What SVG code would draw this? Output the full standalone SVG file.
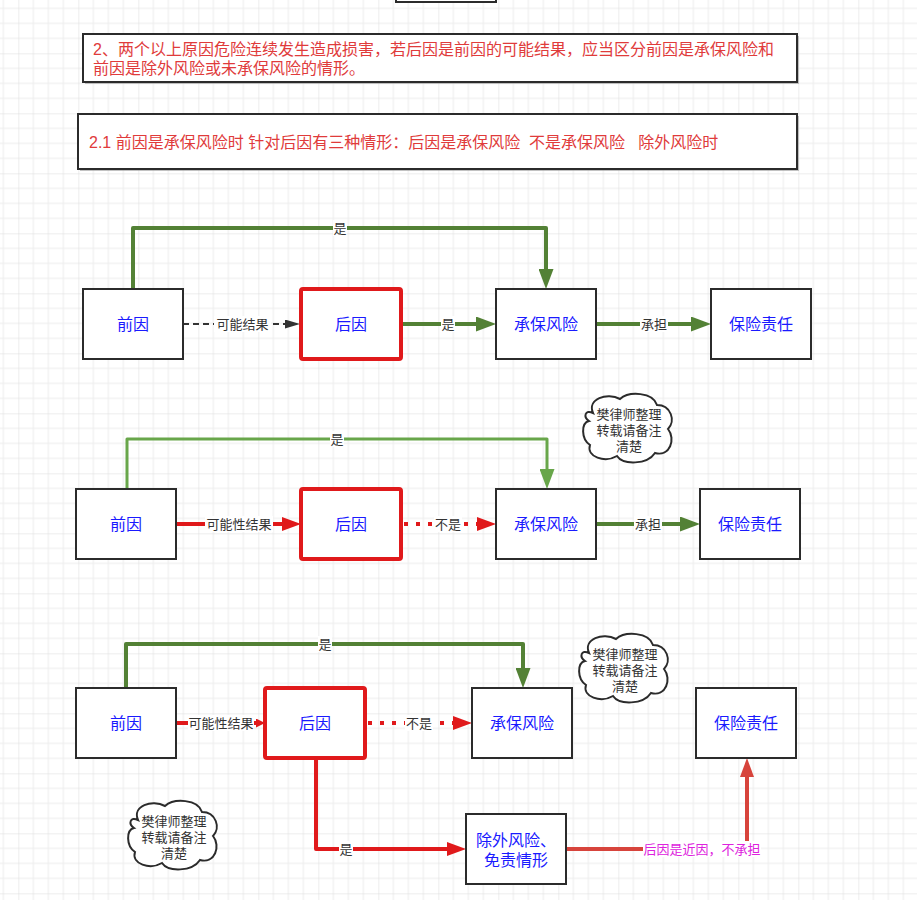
<svg xmlns="http://www.w3.org/2000/svg" width="917" height="900" viewBox="0 0 917 900">
<defs>
<pattern id="grid" width="60" height="60" patternUnits="userSpaceOnUse" x="18.33" y="53.33">
<path d="M15 0V60M30 0V60M45 0V60M0 15H60M0 30H60M0 45H60" stroke="#ececec" stroke-width="1" fill="none"/>
<path d="M0 0V60M0 0H60" stroke="#dcdcdc" stroke-width="1" fill="none"/>
</pattern>
<marker id="aDark" viewBox="0 0 15 9" refX="0" refY="4.5" markerWidth="15" markerHeight="9" markerUnits="userSpaceOnUse" orient="auto"><path d="M0 0L15 4.5L0 9Z" fill="#333"/></marker>
<marker id="aGreen" viewBox="0 0 20 15" refX="0" refY="7.5" markerWidth="20" markerHeight="15" markerUnits="userSpaceOnUse" orient="auto"><path d="M0 0L20 7.5L0 15Z" fill="#538135"/></marker>
<marker id="aLGreen" viewBox="0 0 20 15" refX="0" refY="7.5" markerWidth="20" markerHeight="15" markerUnits="userSpaceOnUse" orient="auto"><path d="M0 0L20 7.5L0 15Z" fill="#68a64a"/></marker>
<marker id="aRed" viewBox="0 0 19 14" refX="0" refY="7" markerWidth="19" markerHeight="14" markerUnits="userSpaceOnUse" orient="auto"><path d="M0 0L19 7L0 14Z" fill="#e0191b"/></marker>
<marker id="aRedS" viewBox="0 0 9 9" refX="0" refY="4.5" markerWidth="9" markerHeight="9" markerUnits="userSpaceOnUse" orient="auto"><path d="M0 0L9 4.5L0 9Z" fill="#e0191b"/></marker>
<marker id="aRed2" viewBox="0 0 19 14" refX="0" refY="7" markerWidth="19" markerHeight="14" markerUnits="userSpaceOnUse" orient="auto"><path d="M0 0L19 7L0 14Z" fill="#d7443c"/></marker>
<path id="cloud" d="M10 20C4 6 24 -1 37 6C46 -2 70 -1 74 12C88 12 93 28 85 36C93 46 87 64 72 60C64 72 40 72 34 63C22 70 3 64 7 52C-2 46 -2 30 6 28C0 24 2 16 10 20Z"/>
</defs>
<style>
text{font-family:"Liberation Sans","Noto Sans CJK SC",sans-serif}
.box{fill:#fff;stroke:#2b2b2b;stroke-width:2}
.hot{fill:#fff;stroke:#e0191b;stroke-width:4}
.shadow{fill:#9a9a9a;opacity:.6}
.note{font-size:16px;fill:#e03b3b;white-space:pre}
.nl{font-size:16px;fill:#1a1aff;text-anchor:middle}
.el{font-size:13px;fill:#333;text-anchor:middle}
.bg{fill:#fff}
.cl{fill:#fff;stroke:#2b2b2b;stroke-width:2}
.ct{font-size:13px;fill:#333;text-anchor:middle}
.e{fill:none;stroke-linejoin:round}
.dk{stroke:#333;stroke-width:2;stroke-dasharray:6 4}
.gr{stroke:#538135;stroke-width:4}
.lg{stroke:#68a64a;stroke-width:3}
.rd{stroke:#e0191b;stroke-width:4}
.dot{stroke:#e0191b;stroke-width:4;stroke-dasharray:4 8}
.rd2{stroke:#d7443c;stroke-width:4}
</style>
<rect width="917" height="900" fill="#fff"/>
<rect width="917" height="900" fill="url(#grid)"/>

<g id="topbox"><rect class="box" x="396" y="-20" width="100" height="22"/></g>

<g id="note1">
<rect class="shadow" x="85" y="36" width="714" height="48"/>
<rect class="box" x="83" y="34" width="714" height="48"/>
<text class="note" x="93" y="55">2、两个以上原因危险连续发生造成损害，若后因是前因的可能结果，应当区分前因是承保风险和</text>
<text class="note" x="93" y="74">前因是除外风险或未承保风险的情形。</text>
</g>
<g id="note2">
<rect class="shadow" x="80" y="116" width="719" height="55"/>
<rect class="box" x="78" y="114" width="719" height="55"/>
<text class="note" x="89" y="148">2.1 前因是承保风险时 针对后因有三种情形：后因是承保风险  不是承保风险   除外风险时</text>
</g>

<g id="connectors">
<path class="e dk" d="M183 324H285" marker-end="url(#aDark)"/>
<path class="e gr" d="M403 324H476" marker-end="url(#aGreen)"/>
<path class="e gr" d="M596 324H691" marker-end="url(#aGreen)"/>
<path class="e gr" d="M133 289V228H546V269" marker-end="url(#aGreen)"/>
<path class="e rd" d="M176 524H282" marker-end="url(#aRed)"/>
<path class="e dot" d="M404 524H477" marker-end="url(#aRed)"/>
<path class="e gr" d="M596 524H680" marker-end="url(#aGreen)"/>
<path class="e lg" d="M127 489V439H547V469" marker-end="url(#aLGreen)"/>
<path class="e rd" d="M176 723H256" marker-end="url(#aRedS)"/>
<path class="e dot" d="M368 723H453" marker-end="url(#aRed)"/>
<path class="e gr" d="M126 688V644H523V668" marker-end="url(#aGreen)"/>
<path class="e rd" d="M316 760V849H447" marker-end="url(#aRed)"/>
<path class="e rd2" d="M566 849H747V777" marker-end="url(#aRed2)"/>

<g id="labels">
<rect class="bg" x="214" y="316" width="57" height="16"/><text class="el" x="242.5" y="329">可能结果</text>
<rect class="bg" x="441" y="316" width="14" height="16"/><text class="el" x="448" y="329">是</text>
<rect class="bg" x="640" y="316" width="28" height="16"/><text class="el" x="654" y="329">承担</text>
<rect class="bg" x="333" y="220" width="14" height="16"/><text class="el" x="340" y="233">是</text>
<rect class="bg" x="205" y="516" width="68" height="16"/><text class="el" x="239" y="529">可能性结果</text>
<rect class="bg" x="434" y="516" width="28" height="16"/><text class="el" x="448" y="529">不是</text>
<rect class="bg" x="634" y="516" width="28" height="16"/><text class="el" x="648" y="529">承担</text>
<rect class="bg" x="330" y="431" width="14" height="16"/><text class="el" x="337" y="444">是</text>
<rect class="bg" x="188" y="715" width="66" height="16"/><text class="el" x="221" y="728">可能性结果</text>
<rect class="bg" x="405" y="715" width="28" height="16"/><text class="el" x="419" y="728">不是</text>
<rect class="bg" x="318" y="636" width="14" height="16"/><text class="el" x="325" y="649">是</text>
<rect class="bg" x="339" y="841" width="14" height="16"/><text class="el" x="346" y="854">是</text>
<rect class="bg" x="643" y="841" width="118" height="16"/><text class="el" x="702" y="854" style="fill:#dd22dd">后因是近因，不承担</text>
</g>
</g>

<g id="s1-qianyin"><rect class="box" x="83" y="289" width="100" height="70"/><text class="nl" x="133" y="330">前因</text></g>
<g id="s1-houyin"><rect class="hot" x="301" y="289" width="100" height="70" rx="2"/><text class="nl" x="351" y="330">后因</text></g>
<g id="s1-chengbao"><rect class="box" x="496" y="289" width="100" height="70"/><text class="nl" x="546" y="330">承保风险</text></g>
<g id="s1-zeren"><rect class="box" x="711" y="289" width="100" height="70"/><text class="nl" x="761" y="330">保险责任</text></g>

<g id="s2-qianyin"><rect class="box" x="76" y="489" width="100" height="70"/><text class="nl" x="126" y="530">前因</text></g>
<g id="s2-houyin"><rect class="hot" x="301" y="489" width="100" height="70" rx="2"/><text class="nl" x="351" y="530">后因</text></g>
<g id="s2-chengbao"><rect class="box" x="496" y="489" width="100" height="70"/><text class="nl" x="546" y="530">承保风险</text></g>
<g id="s2-zeren"><rect class="box" x="700" y="489" width="100" height="70"/><text class="nl" x="750" y="530">保险责任</text></g>
<g id="cloud1"><use href="#cloud" class="cl" x="583" y="393"/><text class="ct" x="629" y="419">樊律师整理</text><text class="ct" x="629" y="435">转载请备注</text><text class="ct" x="629" y="451">清楚</text></g>

<g id="s3-qianyin"><rect class="box" x="76" y="688" width="100" height="70"/><text class="nl" x="126" y="729">前因</text></g>
<g id="s3-houyin"><rect class="hot" x="265" y="688" width="100" height="70" rx="2"/><text class="nl" x="315" y="729">后因</text></g>
<g id="s3-chengbao"><rect class="box" x="472" y="688" width="100" height="70"/><text class="nl" x="522" y="729">承保风险</text></g>
<g id="s3-zeren"><rect class="box" x="696" y="688" width="100" height="70"/><text class="nl" x="746" y="729">保险责任</text></g>
<g id="s3-chuwai"><rect class="box" x="466" y="814" width="100" height="70"/><text class="nl" x="516" y="846">除外风险、</text><text class="nl" x="516" y="866">免责情形</text></g>
<g id="cloud2"><use href="#cloud" class="cl" x="579" y="633"/><text class="ct" x="625" y="659">樊律师整理</text><text class="ct" x="625" y="675">转载请备注</text><text class="ct" x="625" y="691">清楚</text></g>
<g id="cloud3"><use href="#cloud" class="cl" x="128" y="800"/><text class="ct" x="174" y="826">樊律师整理</text><text class="ct" x="174" y="842">转载请备注</text><text class="ct" x="174" y="858">清楚</text></g>
</svg>
